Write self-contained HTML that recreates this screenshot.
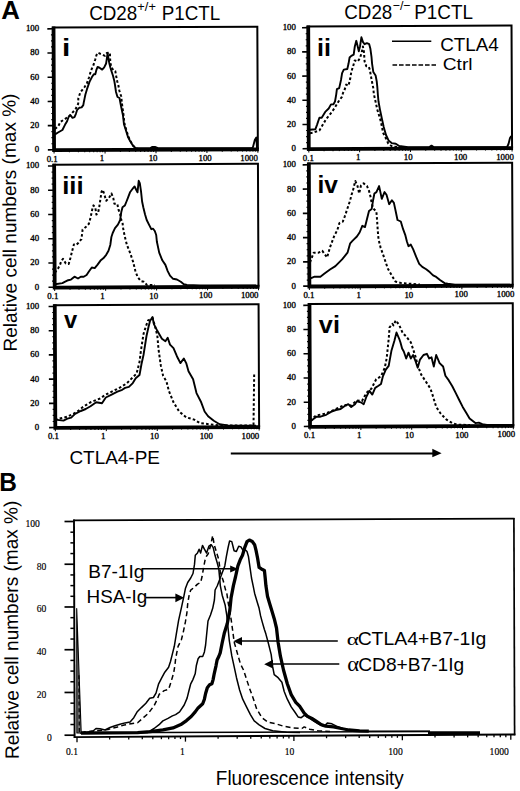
<!DOCTYPE html>
<html><head><meta charset="utf-8"><style>
html,body{margin:0;padding:0;background:#fff;}
body{width:520px;height:791px;overflow:hidden;}
svg{display:block;}
text{fill:#000;}
.tk{font-family:"Liberation Serif",serif;font-size:8.8px;stroke:#000;stroke-width:0.35px;}
.tkb{font-family:"Liberation Serif",serif;font-size:9.6px;stroke:#000;stroke-width:0.15px;}
.pl{font-family:"Liberation Sans",sans-serif;font-weight:bold;font-size:24.5px;}
.big{font-family:"Liberation Sans",sans-serif;font-weight:bold;font-size:24.5px;}
.hd{font-family:"Liberation Sans",sans-serif;font-size:18.4px;}
.lg{font-family:"Liberation Sans",sans-serif;font-size:17.8px;}
.yl{font-family:"Liberation Sans",sans-serif;font-size:18.9px;}
.ax{font-family:"Liberation Sans",sans-serif;font-size:18.5px;}
.ax2{font-family:"Liberation Sans",sans-serif;font-size:18.7px;}
.lb{font-family:"Liberation Sans",sans-serif;font-size:18.3px;}
.gr{font-family:"Liberation Serif",serif;}
</style></head><body>
<svg width="520" height="791" viewBox="0 0 520 791">
<rect width="520" height="791" fill="#fff"/>
<g transform="rotate(-0.2578)">
<path d="M52.00,27.85H257.20V150.45" fill="none" stroke="#000" stroke-width="2"/>
<path d="M53.40,26.85V150.45H258.20" fill="none" stroke="#000" stroke-width="3.8"/>
<line x1="47.20" y1="150.05" x2="53.40" y2="150.05" stroke="#000" stroke-width="1.6"/>
<line x1="50.80" y1="144.00" x2="53.40" y2="144.00" stroke="#000" stroke-width="1.2"/>
<line x1="50.80" y1="137.95" x2="53.40" y2="137.95" stroke="#000" stroke-width="1.2"/>
<line x1="50.80" y1="131.90" x2="53.40" y2="131.90" stroke="#000" stroke-width="1.2"/>
<line x1="47.20" y1="125.85" x2="53.40" y2="125.85" stroke="#000" stroke-width="1.6"/>
<line x1="50.80" y1="119.80" x2="53.40" y2="119.80" stroke="#000" stroke-width="1.2"/>
<line x1="50.80" y1="113.75" x2="53.40" y2="113.75" stroke="#000" stroke-width="1.2"/>
<line x1="50.80" y1="107.70" x2="53.40" y2="107.70" stroke="#000" stroke-width="1.2"/>
<line x1="47.20" y1="101.65" x2="53.40" y2="101.65" stroke="#000" stroke-width="1.6"/>
<line x1="50.80" y1="95.60" x2="53.40" y2="95.60" stroke="#000" stroke-width="1.2"/>
<line x1="50.80" y1="89.55" x2="53.40" y2="89.55" stroke="#000" stroke-width="1.2"/>
<line x1="50.80" y1="83.50" x2="53.40" y2="83.50" stroke="#000" stroke-width="1.2"/>
<line x1="47.20" y1="77.45" x2="53.40" y2="77.45" stroke="#000" stroke-width="1.6"/>
<line x1="50.80" y1="71.40" x2="53.40" y2="71.40" stroke="#000" stroke-width="1.2"/>
<line x1="50.80" y1="65.35" x2="53.40" y2="65.35" stroke="#000" stroke-width="1.2"/>
<line x1="50.80" y1="59.30" x2="53.40" y2="59.30" stroke="#000" stroke-width="1.2"/>
<line x1="47.20" y1="53.25" x2="53.40" y2="53.25" stroke="#000" stroke-width="1.6"/>
<line x1="50.80" y1="47.20" x2="53.40" y2="47.20" stroke="#000" stroke-width="1.2"/>
<line x1="50.80" y1="41.15" x2="53.40" y2="41.15" stroke="#000" stroke-width="1.2"/>
<line x1="50.80" y1="35.10" x2="53.40" y2="35.10" stroke="#000" stroke-width="1.2"/>
<line x1="47.20" y1="29.05" x2="53.40" y2="29.05" stroke="#000" stroke-width="1.6"/>
<line x1="53.40" y1="150.45" x2="53.40" y2="153.85" stroke="#000" stroke-width="1"/>
<line x1="68.74" y1="150.45" x2="68.74" y2="152.65" stroke="#000" stroke-width="1"/>
<line x1="77.71" y1="150.45" x2="77.71" y2="152.65" stroke="#000" stroke-width="1"/>
<line x1="84.07" y1="150.45" x2="84.07" y2="152.65" stroke="#000" stroke-width="1"/>
<line x1="89.01" y1="150.45" x2="89.01" y2="152.65" stroke="#000" stroke-width="1"/>
<line x1="93.05" y1="150.45" x2="93.05" y2="152.65" stroke="#000" stroke-width="1"/>
<line x1="96.46" y1="150.45" x2="96.46" y2="152.65" stroke="#000" stroke-width="1"/>
<line x1="99.41" y1="150.45" x2="99.41" y2="152.65" stroke="#000" stroke-width="1"/>
<line x1="102.02" y1="150.45" x2="102.02" y2="152.65" stroke="#000" stroke-width="1"/>
<line x1="104.35" y1="150.45" x2="104.35" y2="153.85" stroke="#000" stroke-width="1"/>
<line x1="119.69" y1="150.45" x2="119.69" y2="152.65" stroke="#000" stroke-width="1"/>
<line x1="128.66" y1="150.45" x2="128.66" y2="152.65" stroke="#000" stroke-width="1"/>
<line x1="135.02" y1="150.45" x2="135.02" y2="152.65" stroke="#000" stroke-width="1"/>
<line x1="139.96" y1="150.45" x2="139.96" y2="152.65" stroke="#000" stroke-width="1"/>
<line x1="144.00" y1="150.45" x2="144.00" y2="152.65" stroke="#000" stroke-width="1"/>
<line x1="147.41" y1="150.45" x2="147.41" y2="152.65" stroke="#000" stroke-width="1"/>
<line x1="150.36" y1="150.45" x2="150.36" y2="152.65" stroke="#000" stroke-width="1"/>
<line x1="152.97" y1="150.45" x2="152.97" y2="152.65" stroke="#000" stroke-width="1"/>
<line x1="155.30" y1="150.45" x2="155.30" y2="153.85" stroke="#000" stroke-width="1"/>
<line x1="170.64" y1="150.45" x2="170.64" y2="152.65" stroke="#000" stroke-width="1"/>
<line x1="179.61" y1="150.45" x2="179.61" y2="152.65" stroke="#000" stroke-width="1"/>
<line x1="185.97" y1="150.45" x2="185.97" y2="152.65" stroke="#000" stroke-width="1"/>
<line x1="190.91" y1="150.45" x2="190.91" y2="152.65" stroke="#000" stroke-width="1"/>
<line x1="194.95" y1="150.45" x2="194.95" y2="152.65" stroke="#000" stroke-width="1"/>
<line x1="198.36" y1="150.45" x2="198.36" y2="152.65" stroke="#000" stroke-width="1"/>
<line x1="201.31" y1="150.45" x2="201.31" y2="152.65" stroke="#000" stroke-width="1"/>
<line x1="203.92" y1="150.45" x2="203.92" y2="152.65" stroke="#000" stroke-width="1"/>
<line x1="206.25" y1="150.45" x2="206.25" y2="153.85" stroke="#000" stroke-width="1"/>
<line x1="221.59" y1="150.45" x2="221.59" y2="152.65" stroke="#000" stroke-width="1"/>
<line x1="230.56" y1="150.45" x2="230.56" y2="152.65" stroke="#000" stroke-width="1"/>
<line x1="236.92" y1="150.45" x2="236.92" y2="152.65" stroke="#000" stroke-width="1"/>
<line x1="241.86" y1="150.45" x2="241.86" y2="152.65" stroke="#000" stroke-width="1"/>
<line x1="245.90" y1="150.45" x2="245.90" y2="152.65" stroke="#000" stroke-width="1"/>
<line x1="249.31" y1="150.45" x2="249.31" y2="152.65" stroke="#000" stroke-width="1"/>
<line x1="252.26" y1="150.45" x2="252.26" y2="152.65" stroke="#000" stroke-width="1"/>
<line x1="254.87" y1="150.45" x2="254.87" y2="152.65" stroke="#000" stroke-width="1"/>
<line x1="257.20" y1="150.45" x2="257.20" y2="153.85" stroke="#000" stroke-width="1"/>
<path d="M306.70,27.85H511.40V150.45" fill="none" stroke="#000" stroke-width="2"/>
<path d="M308.10,26.85V150.45H512.40" fill="none" stroke="#000" stroke-width="3.8"/>
<line x1="301.90" y1="150.05" x2="308.10" y2="150.05" stroke="#000" stroke-width="1.6"/>
<line x1="305.50" y1="144.00" x2="308.10" y2="144.00" stroke="#000" stroke-width="1.2"/>
<line x1="305.50" y1="137.95" x2="308.10" y2="137.95" stroke="#000" stroke-width="1.2"/>
<line x1="305.50" y1="131.90" x2="308.10" y2="131.90" stroke="#000" stroke-width="1.2"/>
<line x1="301.90" y1="125.85" x2="308.10" y2="125.85" stroke="#000" stroke-width="1.6"/>
<line x1="305.50" y1="119.80" x2="308.10" y2="119.80" stroke="#000" stroke-width="1.2"/>
<line x1="305.50" y1="113.75" x2="308.10" y2="113.75" stroke="#000" stroke-width="1.2"/>
<line x1="305.50" y1="107.70" x2="308.10" y2="107.70" stroke="#000" stroke-width="1.2"/>
<line x1="301.90" y1="101.65" x2="308.10" y2="101.65" stroke="#000" stroke-width="1.6"/>
<line x1="305.50" y1="95.60" x2="308.10" y2="95.60" stroke="#000" stroke-width="1.2"/>
<line x1="305.50" y1="89.55" x2="308.10" y2="89.55" stroke="#000" stroke-width="1.2"/>
<line x1="305.50" y1="83.50" x2="308.10" y2="83.50" stroke="#000" stroke-width="1.2"/>
<line x1="301.90" y1="77.45" x2="308.10" y2="77.45" stroke="#000" stroke-width="1.6"/>
<line x1="305.50" y1="71.40" x2="308.10" y2="71.40" stroke="#000" stroke-width="1.2"/>
<line x1="305.50" y1="65.35" x2="308.10" y2="65.35" stroke="#000" stroke-width="1.2"/>
<line x1="305.50" y1="59.30" x2="308.10" y2="59.30" stroke="#000" stroke-width="1.2"/>
<line x1="301.90" y1="53.25" x2="308.10" y2="53.25" stroke="#000" stroke-width="1.6"/>
<line x1="305.50" y1="47.20" x2="308.10" y2="47.20" stroke="#000" stroke-width="1.2"/>
<line x1="305.50" y1="41.15" x2="308.10" y2="41.15" stroke="#000" stroke-width="1.2"/>
<line x1="305.50" y1="35.10" x2="308.10" y2="35.10" stroke="#000" stroke-width="1.2"/>
<line x1="301.90" y1="29.05" x2="308.10" y2="29.05" stroke="#000" stroke-width="1.6"/>
<line x1="308.10" y1="150.45" x2="308.10" y2="153.85" stroke="#000" stroke-width="1"/>
<line x1="323.40" y1="150.45" x2="323.40" y2="152.65" stroke="#000" stroke-width="1"/>
<line x1="332.35" y1="150.45" x2="332.35" y2="152.65" stroke="#000" stroke-width="1"/>
<line x1="338.70" y1="150.45" x2="338.70" y2="152.65" stroke="#000" stroke-width="1"/>
<line x1="343.63" y1="150.45" x2="343.63" y2="152.65" stroke="#000" stroke-width="1"/>
<line x1="347.65" y1="150.45" x2="347.65" y2="152.65" stroke="#000" stroke-width="1"/>
<line x1="351.05" y1="150.45" x2="351.05" y2="152.65" stroke="#000" stroke-width="1"/>
<line x1="354.00" y1="150.45" x2="354.00" y2="152.65" stroke="#000" stroke-width="1"/>
<line x1="356.60" y1="150.45" x2="356.60" y2="152.65" stroke="#000" stroke-width="1"/>
<line x1="358.93" y1="150.45" x2="358.93" y2="153.85" stroke="#000" stroke-width="1"/>
<line x1="374.22" y1="150.45" x2="374.22" y2="152.65" stroke="#000" stroke-width="1"/>
<line x1="383.17" y1="150.45" x2="383.17" y2="152.65" stroke="#000" stroke-width="1"/>
<line x1="389.52" y1="150.45" x2="389.52" y2="152.65" stroke="#000" stroke-width="1"/>
<line x1="394.45" y1="150.45" x2="394.45" y2="152.65" stroke="#000" stroke-width="1"/>
<line x1="398.47" y1="150.45" x2="398.47" y2="152.65" stroke="#000" stroke-width="1"/>
<line x1="401.88" y1="150.45" x2="401.88" y2="152.65" stroke="#000" stroke-width="1"/>
<line x1="404.82" y1="150.45" x2="404.82" y2="152.65" stroke="#000" stroke-width="1"/>
<line x1="407.42" y1="150.45" x2="407.42" y2="152.65" stroke="#000" stroke-width="1"/>
<line x1="409.75" y1="150.45" x2="409.75" y2="153.85" stroke="#000" stroke-width="1"/>
<line x1="425.05" y1="150.45" x2="425.05" y2="152.65" stroke="#000" stroke-width="1"/>
<line x1="434.00" y1="150.45" x2="434.00" y2="152.65" stroke="#000" stroke-width="1"/>
<line x1="440.35" y1="150.45" x2="440.35" y2="152.65" stroke="#000" stroke-width="1"/>
<line x1="445.28" y1="150.45" x2="445.28" y2="152.65" stroke="#000" stroke-width="1"/>
<line x1="449.30" y1="150.45" x2="449.30" y2="152.65" stroke="#000" stroke-width="1"/>
<line x1="452.70" y1="150.45" x2="452.70" y2="152.65" stroke="#000" stroke-width="1"/>
<line x1="455.65" y1="150.45" x2="455.65" y2="152.65" stroke="#000" stroke-width="1"/>
<line x1="458.25" y1="150.45" x2="458.25" y2="152.65" stroke="#000" stroke-width="1"/>
<line x1="460.57" y1="150.45" x2="460.57" y2="153.85" stroke="#000" stroke-width="1"/>
<line x1="475.87" y1="150.45" x2="475.87" y2="152.65" stroke="#000" stroke-width="1"/>
<line x1="484.82" y1="150.45" x2="484.82" y2="152.65" stroke="#000" stroke-width="1"/>
<line x1="491.17" y1="150.45" x2="491.17" y2="152.65" stroke="#000" stroke-width="1"/>
<line x1="496.10" y1="150.45" x2="496.10" y2="152.65" stroke="#000" stroke-width="1"/>
<line x1="500.12" y1="150.45" x2="500.12" y2="152.65" stroke="#000" stroke-width="1"/>
<line x1="503.53" y1="150.45" x2="503.53" y2="152.65" stroke="#000" stroke-width="1"/>
<line x1="506.47" y1="150.45" x2="506.47" y2="152.65" stroke="#000" stroke-width="1"/>
<line x1="509.07" y1="150.45" x2="509.07" y2="152.65" stroke="#000" stroke-width="1"/>
<line x1="511.40" y1="150.45" x2="511.40" y2="153.85" stroke="#000" stroke-width="1"/>
<path d="M52.00,165.00H257.20V287.90" fill="none" stroke="#000" stroke-width="2"/>
<path d="M53.40,164.00V287.90H258.20" fill="none" stroke="#000" stroke-width="3.8"/>
<line x1="47.20" y1="287.50" x2="53.40" y2="287.50" stroke="#000" stroke-width="1.6"/>
<line x1="50.80" y1="281.44" x2="53.40" y2="281.44" stroke="#000" stroke-width="1.2"/>
<line x1="50.80" y1="275.37" x2="53.40" y2="275.37" stroke="#000" stroke-width="1.2"/>
<line x1="50.80" y1="269.31" x2="53.40" y2="269.31" stroke="#000" stroke-width="1.2"/>
<line x1="47.20" y1="263.24" x2="53.40" y2="263.24" stroke="#000" stroke-width="1.6"/>
<line x1="50.80" y1="257.18" x2="53.40" y2="257.18" stroke="#000" stroke-width="1.2"/>
<line x1="50.80" y1="251.11" x2="53.40" y2="251.11" stroke="#000" stroke-width="1.2"/>
<line x1="50.80" y1="245.05" x2="53.40" y2="245.05" stroke="#000" stroke-width="1.2"/>
<line x1="47.20" y1="238.98" x2="53.40" y2="238.98" stroke="#000" stroke-width="1.6"/>
<line x1="50.80" y1="232.91" x2="53.40" y2="232.91" stroke="#000" stroke-width="1.2"/>
<line x1="50.80" y1="226.85" x2="53.40" y2="226.85" stroke="#000" stroke-width="1.2"/>
<line x1="50.80" y1="220.78" x2="53.40" y2="220.78" stroke="#000" stroke-width="1.2"/>
<line x1="47.20" y1="214.72" x2="53.40" y2="214.72" stroke="#000" stroke-width="1.6"/>
<line x1="50.80" y1="208.65" x2="53.40" y2="208.65" stroke="#000" stroke-width="1.2"/>
<line x1="50.80" y1="202.59" x2="53.40" y2="202.59" stroke="#000" stroke-width="1.2"/>
<line x1="50.80" y1="196.53" x2="53.40" y2="196.53" stroke="#000" stroke-width="1.2"/>
<line x1="47.20" y1="190.46" x2="53.40" y2="190.46" stroke="#000" stroke-width="1.6"/>
<line x1="50.80" y1="184.39" x2="53.40" y2="184.39" stroke="#000" stroke-width="1.2"/>
<line x1="50.80" y1="178.33" x2="53.40" y2="178.33" stroke="#000" stroke-width="1.2"/>
<line x1="50.80" y1="172.26" x2="53.40" y2="172.26" stroke="#000" stroke-width="1.2"/>
<line x1="47.20" y1="166.20" x2="53.40" y2="166.20" stroke="#000" stroke-width="1.6"/>
<line x1="53.40" y1="287.90" x2="53.40" y2="291.30" stroke="#000" stroke-width="1"/>
<line x1="68.74" y1="287.90" x2="68.74" y2="290.10" stroke="#000" stroke-width="1"/>
<line x1="77.71" y1="287.90" x2="77.71" y2="290.10" stroke="#000" stroke-width="1"/>
<line x1="84.07" y1="287.90" x2="84.07" y2="290.10" stroke="#000" stroke-width="1"/>
<line x1="89.01" y1="287.90" x2="89.01" y2="290.10" stroke="#000" stroke-width="1"/>
<line x1="93.05" y1="287.90" x2="93.05" y2="290.10" stroke="#000" stroke-width="1"/>
<line x1="96.46" y1="287.90" x2="96.46" y2="290.10" stroke="#000" stroke-width="1"/>
<line x1="99.41" y1="287.90" x2="99.41" y2="290.10" stroke="#000" stroke-width="1"/>
<line x1="102.02" y1="287.90" x2="102.02" y2="290.10" stroke="#000" stroke-width="1"/>
<line x1="104.35" y1="287.90" x2="104.35" y2="291.30" stroke="#000" stroke-width="1"/>
<line x1="119.69" y1="287.90" x2="119.69" y2="290.10" stroke="#000" stroke-width="1"/>
<line x1="128.66" y1="287.90" x2="128.66" y2="290.10" stroke="#000" stroke-width="1"/>
<line x1="135.02" y1="287.90" x2="135.02" y2="290.10" stroke="#000" stroke-width="1"/>
<line x1="139.96" y1="287.90" x2="139.96" y2="290.10" stroke="#000" stroke-width="1"/>
<line x1="144.00" y1="287.90" x2="144.00" y2="290.10" stroke="#000" stroke-width="1"/>
<line x1="147.41" y1="287.90" x2="147.41" y2="290.10" stroke="#000" stroke-width="1"/>
<line x1="150.36" y1="287.90" x2="150.36" y2="290.10" stroke="#000" stroke-width="1"/>
<line x1="152.97" y1="287.90" x2="152.97" y2="290.10" stroke="#000" stroke-width="1"/>
<line x1="155.30" y1="287.90" x2="155.30" y2="291.30" stroke="#000" stroke-width="1"/>
<line x1="170.64" y1="287.90" x2="170.64" y2="290.10" stroke="#000" stroke-width="1"/>
<line x1="179.61" y1="287.90" x2="179.61" y2="290.10" stroke="#000" stroke-width="1"/>
<line x1="185.97" y1="287.90" x2="185.97" y2="290.10" stroke="#000" stroke-width="1"/>
<line x1="190.91" y1="287.90" x2="190.91" y2="290.10" stroke="#000" stroke-width="1"/>
<line x1="194.95" y1="287.90" x2="194.95" y2="290.10" stroke="#000" stroke-width="1"/>
<line x1="198.36" y1="287.90" x2="198.36" y2="290.10" stroke="#000" stroke-width="1"/>
<line x1="201.31" y1="287.90" x2="201.31" y2="290.10" stroke="#000" stroke-width="1"/>
<line x1="203.92" y1="287.90" x2="203.92" y2="290.10" stroke="#000" stroke-width="1"/>
<line x1="206.25" y1="287.90" x2="206.25" y2="291.30" stroke="#000" stroke-width="1"/>
<line x1="221.59" y1="287.90" x2="221.59" y2="290.10" stroke="#000" stroke-width="1"/>
<line x1="230.56" y1="287.90" x2="230.56" y2="290.10" stroke="#000" stroke-width="1"/>
<line x1="236.92" y1="287.90" x2="236.92" y2="290.10" stroke="#000" stroke-width="1"/>
<line x1="241.86" y1="287.90" x2="241.86" y2="290.10" stroke="#000" stroke-width="1"/>
<line x1="245.90" y1="287.90" x2="245.90" y2="290.10" stroke="#000" stroke-width="1"/>
<line x1="249.31" y1="287.90" x2="249.31" y2="290.10" stroke="#000" stroke-width="1"/>
<line x1="252.26" y1="287.90" x2="252.26" y2="290.10" stroke="#000" stroke-width="1"/>
<line x1="254.87" y1="287.90" x2="254.87" y2="290.10" stroke="#000" stroke-width="1"/>
<line x1="257.20" y1="287.90" x2="257.20" y2="291.30" stroke="#000" stroke-width="1"/>
<path d="M306.70,165.00H511.40V287.90" fill="none" stroke="#000" stroke-width="2"/>
<path d="M308.10,164.00V287.90H512.40" fill="none" stroke="#000" stroke-width="3.8"/>
<line x1="301.90" y1="287.50" x2="308.10" y2="287.50" stroke="#000" stroke-width="1.6"/>
<line x1="305.50" y1="281.44" x2="308.10" y2="281.44" stroke="#000" stroke-width="1.2"/>
<line x1="305.50" y1="275.37" x2="308.10" y2="275.37" stroke="#000" stroke-width="1.2"/>
<line x1="305.50" y1="269.31" x2="308.10" y2="269.31" stroke="#000" stroke-width="1.2"/>
<line x1="301.90" y1="263.24" x2="308.10" y2="263.24" stroke="#000" stroke-width="1.6"/>
<line x1="305.50" y1="257.18" x2="308.10" y2="257.18" stroke="#000" stroke-width="1.2"/>
<line x1="305.50" y1="251.11" x2="308.10" y2="251.11" stroke="#000" stroke-width="1.2"/>
<line x1="305.50" y1="245.05" x2="308.10" y2="245.05" stroke="#000" stroke-width="1.2"/>
<line x1="301.90" y1="238.98" x2="308.10" y2="238.98" stroke="#000" stroke-width="1.6"/>
<line x1="305.50" y1="232.91" x2="308.10" y2="232.91" stroke="#000" stroke-width="1.2"/>
<line x1="305.50" y1="226.85" x2="308.10" y2="226.85" stroke="#000" stroke-width="1.2"/>
<line x1="305.50" y1="220.78" x2="308.10" y2="220.78" stroke="#000" stroke-width="1.2"/>
<line x1="301.90" y1="214.72" x2="308.10" y2="214.72" stroke="#000" stroke-width="1.6"/>
<line x1="305.50" y1="208.65" x2="308.10" y2="208.65" stroke="#000" stroke-width="1.2"/>
<line x1="305.50" y1="202.59" x2="308.10" y2="202.59" stroke="#000" stroke-width="1.2"/>
<line x1="305.50" y1="196.53" x2="308.10" y2="196.53" stroke="#000" stroke-width="1.2"/>
<line x1="301.90" y1="190.46" x2="308.10" y2="190.46" stroke="#000" stroke-width="1.6"/>
<line x1="305.50" y1="184.39" x2="308.10" y2="184.39" stroke="#000" stroke-width="1.2"/>
<line x1="305.50" y1="178.33" x2="308.10" y2="178.33" stroke="#000" stroke-width="1.2"/>
<line x1="305.50" y1="172.26" x2="308.10" y2="172.26" stroke="#000" stroke-width="1.2"/>
<line x1="301.90" y1="166.20" x2="308.10" y2="166.20" stroke="#000" stroke-width="1.6"/>
<line x1="308.10" y1="287.90" x2="308.10" y2="291.30" stroke="#000" stroke-width="1"/>
<line x1="323.40" y1="287.90" x2="323.40" y2="290.10" stroke="#000" stroke-width="1"/>
<line x1="332.35" y1="287.90" x2="332.35" y2="290.10" stroke="#000" stroke-width="1"/>
<line x1="338.70" y1="287.90" x2="338.70" y2="290.10" stroke="#000" stroke-width="1"/>
<line x1="343.63" y1="287.90" x2="343.63" y2="290.10" stroke="#000" stroke-width="1"/>
<line x1="347.65" y1="287.90" x2="347.65" y2="290.10" stroke="#000" stroke-width="1"/>
<line x1="351.05" y1="287.90" x2="351.05" y2="290.10" stroke="#000" stroke-width="1"/>
<line x1="354.00" y1="287.90" x2="354.00" y2="290.10" stroke="#000" stroke-width="1"/>
<line x1="356.60" y1="287.90" x2="356.60" y2="290.10" stroke="#000" stroke-width="1"/>
<line x1="358.93" y1="287.90" x2="358.93" y2="291.30" stroke="#000" stroke-width="1"/>
<line x1="374.22" y1="287.90" x2="374.22" y2="290.10" stroke="#000" stroke-width="1"/>
<line x1="383.17" y1="287.90" x2="383.17" y2="290.10" stroke="#000" stroke-width="1"/>
<line x1="389.52" y1="287.90" x2="389.52" y2="290.10" stroke="#000" stroke-width="1"/>
<line x1="394.45" y1="287.90" x2="394.45" y2="290.10" stroke="#000" stroke-width="1"/>
<line x1="398.47" y1="287.90" x2="398.47" y2="290.10" stroke="#000" stroke-width="1"/>
<line x1="401.88" y1="287.90" x2="401.88" y2="290.10" stroke="#000" stroke-width="1"/>
<line x1="404.82" y1="287.90" x2="404.82" y2="290.10" stroke="#000" stroke-width="1"/>
<line x1="407.42" y1="287.90" x2="407.42" y2="290.10" stroke="#000" stroke-width="1"/>
<line x1="409.75" y1="287.90" x2="409.75" y2="291.30" stroke="#000" stroke-width="1"/>
<line x1="425.05" y1="287.90" x2="425.05" y2="290.10" stroke="#000" stroke-width="1"/>
<line x1="434.00" y1="287.90" x2="434.00" y2="290.10" stroke="#000" stroke-width="1"/>
<line x1="440.35" y1="287.90" x2="440.35" y2="290.10" stroke="#000" stroke-width="1"/>
<line x1="445.28" y1="287.90" x2="445.28" y2="290.10" stroke="#000" stroke-width="1"/>
<line x1="449.30" y1="287.90" x2="449.30" y2="290.10" stroke="#000" stroke-width="1"/>
<line x1="452.70" y1="287.90" x2="452.70" y2="290.10" stroke="#000" stroke-width="1"/>
<line x1="455.65" y1="287.90" x2="455.65" y2="290.10" stroke="#000" stroke-width="1"/>
<line x1="458.25" y1="287.90" x2="458.25" y2="290.10" stroke="#000" stroke-width="1"/>
<line x1="460.57" y1="287.90" x2="460.57" y2="291.30" stroke="#000" stroke-width="1"/>
<line x1="475.87" y1="287.90" x2="475.87" y2="290.10" stroke="#000" stroke-width="1"/>
<line x1="484.82" y1="287.90" x2="484.82" y2="290.10" stroke="#000" stroke-width="1"/>
<line x1="491.17" y1="287.90" x2="491.17" y2="290.10" stroke="#000" stroke-width="1"/>
<line x1="496.10" y1="287.90" x2="496.10" y2="290.10" stroke="#000" stroke-width="1"/>
<line x1="500.12" y1="287.90" x2="500.12" y2="290.10" stroke="#000" stroke-width="1"/>
<line x1="503.53" y1="287.90" x2="503.53" y2="290.10" stroke="#000" stroke-width="1"/>
<line x1="506.47" y1="287.90" x2="506.47" y2="290.10" stroke="#000" stroke-width="1"/>
<line x1="509.07" y1="287.90" x2="509.07" y2="290.10" stroke="#000" stroke-width="1"/>
<line x1="511.40" y1="287.90" x2="511.40" y2="291.30" stroke="#000" stroke-width="1"/>
<path d="M52.00,305.50H257.20V428.20" fill="none" stroke="#000" stroke-width="2"/>
<path d="M53.40,304.50V428.20H258.20" fill="none" stroke="#000" stroke-width="3.8"/>
<line x1="47.20" y1="427.80" x2="53.40" y2="427.80" stroke="#000" stroke-width="1.6"/>
<line x1="50.80" y1="421.75" x2="53.40" y2="421.75" stroke="#000" stroke-width="1.2"/>
<line x1="50.80" y1="415.69" x2="53.40" y2="415.69" stroke="#000" stroke-width="1.2"/>
<line x1="50.80" y1="409.63" x2="53.40" y2="409.63" stroke="#000" stroke-width="1.2"/>
<line x1="47.20" y1="403.58" x2="53.40" y2="403.58" stroke="#000" stroke-width="1.6"/>
<line x1="50.80" y1="397.52" x2="53.40" y2="397.52" stroke="#000" stroke-width="1.2"/>
<line x1="50.80" y1="391.47" x2="53.40" y2="391.47" stroke="#000" stroke-width="1.2"/>
<line x1="50.80" y1="385.42" x2="53.40" y2="385.42" stroke="#000" stroke-width="1.2"/>
<line x1="47.20" y1="379.36" x2="53.40" y2="379.36" stroke="#000" stroke-width="1.6"/>
<line x1="50.80" y1="373.31" x2="53.40" y2="373.31" stroke="#000" stroke-width="1.2"/>
<line x1="50.80" y1="367.25" x2="53.40" y2="367.25" stroke="#000" stroke-width="1.2"/>
<line x1="50.80" y1="361.19" x2="53.40" y2="361.19" stroke="#000" stroke-width="1.2"/>
<line x1="47.20" y1="355.14" x2="53.40" y2="355.14" stroke="#000" stroke-width="1.6"/>
<line x1="50.80" y1="349.08" x2="53.40" y2="349.08" stroke="#000" stroke-width="1.2"/>
<line x1="50.80" y1="343.03" x2="53.40" y2="343.03" stroke="#000" stroke-width="1.2"/>
<line x1="50.80" y1="336.98" x2="53.40" y2="336.98" stroke="#000" stroke-width="1.2"/>
<line x1="47.20" y1="330.92" x2="53.40" y2="330.92" stroke="#000" stroke-width="1.6"/>
<line x1="50.80" y1="324.87" x2="53.40" y2="324.87" stroke="#000" stroke-width="1.2"/>
<line x1="50.80" y1="318.81" x2="53.40" y2="318.81" stroke="#000" stroke-width="1.2"/>
<line x1="50.80" y1="312.75" x2="53.40" y2="312.75" stroke="#000" stroke-width="1.2"/>
<line x1="47.20" y1="306.70" x2="53.40" y2="306.70" stroke="#000" stroke-width="1.6"/>
<line x1="53.40" y1="428.20" x2="53.40" y2="431.60" stroke="#000" stroke-width="1"/>
<line x1="68.74" y1="428.20" x2="68.74" y2="430.40" stroke="#000" stroke-width="1"/>
<line x1="77.71" y1="428.20" x2="77.71" y2="430.40" stroke="#000" stroke-width="1"/>
<line x1="84.07" y1="428.20" x2="84.07" y2="430.40" stroke="#000" stroke-width="1"/>
<line x1="89.01" y1="428.20" x2="89.01" y2="430.40" stroke="#000" stroke-width="1"/>
<line x1="93.05" y1="428.20" x2="93.05" y2="430.40" stroke="#000" stroke-width="1"/>
<line x1="96.46" y1="428.20" x2="96.46" y2="430.40" stroke="#000" stroke-width="1"/>
<line x1="99.41" y1="428.20" x2="99.41" y2="430.40" stroke="#000" stroke-width="1"/>
<line x1="102.02" y1="428.20" x2="102.02" y2="430.40" stroke="#000" stroke-width="1"/>
<line x1="104.35" y1="428.20" x2="104.35" y2="431.60" stroke="#000" stroke-width="1"/>
<line x1="119.69" y1="428.20" x2="119.69" y2="430.40" stroke="#000" stroke-width="1"/>
<line x1="128.66" y1="428.20" x2="128.66" y2="430.40" stroke="#000" stroke-width="1"/>
<line x1="135.02" y1="428.20" x2="135.02" y2="430.40" stroke="#000" stroke-width="1"/>
<line x1="139.96" y1="428.20" x2="139.96" y2="430.40" stroke="#000" stroke-width="1"/>
<line x1="144.00" y1="428.20" x2="144.00" y2="430.40" stroke="#000" stroke-width="1"/>
<line x1="147.41" y1="428.20" x2="147.41" y2="430.40" stroke="#000" stroke-width="1"/>
<line x1="150.36" y1="428.20" x2="150.36" y2="430.40" stroke="#000" stroke-width="1"/>
<line x1="152.97" y1="428.20" x2="152.97" y2="430.40" stroke="#000" stroke-width="1"/>
<line x1="155.30" y1="428.20" x2="155.30" y2="431.60" stroke="#000" stroke-width="1"/>
<line x1="170.64" y1="428.20" x2="170.64" y2="430.40" stroke="#000" stroke-width="1"/>
<line x1="179.61" y1="428.20" x2="179.61" y2="430.40" stroke="#000" stroke-width="1"/>
<line x1="185.97" y1="428.20" x2="185.97" y2="430.40" stroke="#000" stroke-width="1"/>
<line x1="190.91" y1="428.20" x2="190.91" y2="430.40" stroke="#000" stroke-width="1"/>
<line x1="194.95" y1="428.20" x2="194.95" y2="430.40" stroke="#000" stroke-width="1"/>
<line x1="198.36" y1="428.20" x2="198.36" y2="430.40" stroke="#000" stroke-width="1"/>
<line x1="201.31" y1="428.20" x2="201.31" y2="430.40" stroke="#000" stroke-width="1"/>
<line x1="203.92" y1="428.20" x2="203.92" y2="430.40" stroke="#000" stroke-width="1"/>
<line x1="206.25" y1="428.20" x2="206.25" y2="431.60" stroke="#000" stroke-width="1"/>
<line x1="221.59" y1="428.20" x2="221.59" y2="430.40" stroke="#000" stroke-width="1"/>
<line x1="230.56" y1="428.20" x2="230.56" y2="430.40" stroke="#000" stroke-width="1"/>
<line x1="236.92" y1="428.20" x2="236.92" y2="430.40" stroke="#000" stroke-width="1"/>
<line x1="241.86" y1="428.20" x2="241.86" y2="430.40" stroke="#000" stroke-width="1"/>
<line x1="245.90" y1="428.20" x2="245.90" y2="430.40" stroke="#000" stroke-width="1"/>
<line x1="249.31" y1="428.20" x2="249.31" y2="430.40" stroke="#000" stroke-width="1"/>
<line x1="252.26" y1="428.20" x2="252.26" y2="430.40" stroke="#000" stroke-width="1"/>
<line x1="254.87" y1="428.20" x2="254.87" y2="430.40" stroke="#000" stroke-width="1"/>
<line x1="257.20" y1="428.20" x2="257.20" y2="431.60" stroke="#000" stroke-width="1"/>
<path d="M306.70,305.50H511.40V428.20" fill="none" stroke="#000" stroke-width="2"/>
<path d="M308.10,304.50V428.20H512.40" fill="none" stroke="#000" stroke-width="3.8"/>
<line x1="301.90" y1="427.80" x2="308.10" y2="427.80" stroke="#000" stroke-width="1.6"/>
<line x1="305.50" y1="421.75" x2="308.10" y2="421.75" stroke="#000" stroke-width="1.2"/>
<line x1="305.50" y1="415.69" x2="308.10" y2="415.69" stroke="#000" stroke-width="1.2"/>
<line x1="305.50" y1="409.63" x2="308.10" y2="409.63" stroke="#000" stroke-width="1.2"/>
<line x1="301.90" y1="403.58" x2="308.10" y2="403.58" stroke="#000" stroke-width="1.6"/>
<line x1="305.50" y1="397.52" x2="308.10" y2="397.52" stroke="#000" stroke-width="1.2"/>
<line x1="305.50" y1="391.47" x2="308.10" y2="391.47" stroke="#000" stroke-width="1.2"/>
<line x1="305.50" y1="385.42" x2="308.10" y2="385.42" stroke="#000" stroke-width="1.2"/>
<line x1="301.90" y1="379.36" x2="308.10" y2="379.36" stroke="#000" stroke-width="1.6"/>
<line x1="305.50" y1="373.31" x2="308.10" y2="373.31" stroke="#000" stroke-width="1.2"/>
<line x1="305.50" y1="367.25" x2="308.10" y2="367.25" stroke="#000" stroke-width="1.2"/>
<line x1="305.50" y1="361.19" x2="308.10" y2="361.19" stroke="#000" stroke-width="1.2"/>
<line x1="301.90" y1="355.14" x2="308.10" y2="355.14" stroke="#000" stroke-width="1.6"/>
<line x1="305.50" y1="349.08" x2="308.10" y2="349.08" stroke="#000" stroke-width="1.2"/>
<line x1="305.50" y1="343.03" x2="308.10" y2="343.03" stroke="#000" stroke-width="1.2"/>
<line x1="305.50" y1="336.98" x2="308.10" y2="336.98" stroke="#000" stroke-width="1.2"/>
<line x1="301.90" y1="330.92" x2="308.10" y2="330.92" stroke="#000" stroke-width="1.6"/>
<line x1="305.50" y1="324.87" x2="308.10" y2="324.87" stroke="#000" stroke-width="1.2"/>
<line x1="305.50" y1="318.81" x2="308.10" y2="318.81" stroke="#000" stroke-width="1.2"/>
<line x1="305.50" y1="312.75" x2="308.10" y2="312.75" stroke="#000" stroke-width="1.2"/>
<line x1="301.90" y1="306.70" x2="308.10" y2="306.70" stroke="#000" stroke-width="1.6"/>
<line x1="308.10" y1="428.20" x2="308.10" y2="431.60" stroke="#000" stroke-width="1"/>
<line x1="323.40" y1="428.20" x2="323.40" y2="430.40" stroke="#000" stroke-width="1"/>
<line x1="332.35" y1="428.20" x2="332.35" y2="430.40" stroke="#000" stroke-width="1"/>
<line x1="338.70" y1="428.20" x2="338.70" y2="430.40" stroke="#000" stroke-width="1"/>
<line x1="343.63" y1="428.20" x2="343.63" y2="430.40" stroke="#000" stroke-width="1"/>
<line x1="347.65" y1="428.20" x2="347.65" y2="430.40" stroke="#000" stroke-width="1"/>
<line x1="351.05" y1="428.20" x2="351.05" y2="430.40" stroke="#000" stroke-width="1"/>
<line x1="354.00" y1="428.20" x2="354.00" y2="430.40" stroke="#000" stroke-width="1"/>
<line x1="356.60" y1="428.20" x2="356.60" y2="430.40" stroke="#000" stroke-width="1"/>
<line x1="358.93" y1="428.20" x2="358.93" y2="431.60" stroke="#000" stroke-width="1"/>
<line x1="374.22" y1="428.20" x2="374.22" y2="430.40" stroke="#000" stroke-width="1"/>
<line x1="383.17" y1="428.20" x2="383.17" y2="430.40" stroke="#000" stroke-width="1"/>
<line x1="389.52" y1="428.20" x2="389.52" y2="430.40" stroke="#000" stroke-width="1"/>
<line x1="394.45" y1="428.20" x2="394.45" y2="430.40" stroke="#000" stroke-width="1"/>
<line x1="398.47" y1="428.20" x2="398.47" y2="430.40" stroke="#000" stroke-width="1"/>
<line x1="401.88" y1="428.20" x2="401.88" y2="430.40" stroke="#000" stroke-width="1"/>
<line x1="404.82" y1="428.20" x2="404.82" y2="430.40" stroke="#000" stroke-width="1"/>
<line x1="407.42" y1="428.20" x2="407.42" y2="430.40" stroke="#000" stroke-width="1"/>
<line x1="409.75" y1="428.20" x2="409.75" y2="431.60" stroke="#000" stroke-width="1"/>
<line x1="425.05" y1="428.20" x2="425.05" y2="430.40" stroke="#000" stroke-width="1"/>
<line x1="434.00" y1="428.20" x2="434.00" y2="430.40" stroke="#000" stroke-width="1"/>
<line x1="440.35" y1="428.20" x2="440.35" y2="430.40" stroke="#000" stroke-width="1"/>
<line x1="445.28" y1="428.20" x2="445.28" y2="430.40" stroke="#000" stroke-width="1"/>
<line x1="449.30" y1="428.20" x2="449.30" y2="430.40" stroke="#000" stroke-width="1"/>
<line x1="452.70" y1="428.20" x2="452.70" y2="430.40" stroke="#000" stroke-width="1"/>
<line x1="455.65" y1="428.20" x2="455.65" y2="430.40" stroke="#000" stroke-width="1"/>
<line x1="458.25" y1="428.20" x2="458.25" y2="430.40" stroke="#000" stroke-width="1"/>
<line x1="460.57" y1="428.20" x2="460.57" y2="431.60" stroke="#000" stroke-width="1"/>
<line x1="475.87" y1="428.20" x2="475.87" y2="430.40" stroke="#000" stroke-width="1"/>
<line x1="484.82" y1="428.20" x2="484.82" y2="430.40" stroke="#000" stroke-width="1"/>
<line x1="491.17" y1="428.20" x2="491.17" y2="430.40" stroke="#000" stroke-width="1"/>
<line x1="496.10" y1="428.20" x2="496.10" y2="430.40" stroke="#000" stroke-width="1"/>
<line x1="500.12" y1="428.20" x2="500.12" y2="430.40" stroke="#000" stroke-width="1"/>
<line x1="503.53" y1="428.20" x2="503.53" y2="430.40" stroke="#000" stroke-width="1"/>
<line x1="506.47" y1="428.20" x2="506.47" y2="430.40" stroke="#000" stroke-width="1"/>
<line x1="509.07" y1="428.20" x2="509.07" y2="430.40" stroke="#000" stroke-width="1"/>
<line x1="511.40" y1="428.20" x2="511.40" y2="431.60" stroke="#000" stroke-width="1"/>
</g>
<text x="39.1" y="152.2" text-anchor="end" class="tk">0</text>
<text x="39.1" y="128.0" text-anchor="end" class="tk">20</text>
<text x="39.1" y="103.8" text-anchor="end" class="tk">40</text>
<text x="39.1" y="79.6" text-anchor="end" class="tk">60</text>
<text x="39.1" y="55.4" text-anchor="end" class="tk">80</text>
<text x="39.1" y="31.2" text-anchor="end" class="tk">100</text>
<text x="52.2" y="161.6" text-anchor="middle" class="tk">0.1</text>
<text x="101.9" y="161.4" text-anchor="middle" class="tk">1</text>
<text x="153.1" y="161.2" text-anchor="middle" class="tk">10</text>
<text x="205.1" y="160.9" text-anchor="middle" class="tk">100</text>
<text x="249.1" y="160.7" text-anchor="middle" class="tk">1000</text>
<text x="295.9" y="151.1" text-anchor="end" class="tk">0</text>
<text x="295.9" y="126.9" text-anchor="end" class="tk">20</text>
<text x="295.9" y="102.7" text-anchor="end" class="tk">40</text>
<text x="295.9" y="78.5" text-anchor="end" class="tk">60</text>
<text x="295.9" y="54.3" text-anchor="end" class="tk">80</text>
<text x="295.9" y="30.1" text-anchor="end" class="tk">100</text>
<text x="308.3" y="160.5" text-anchor="middle" class="tk">0.1</text>
<text x="358.1" y="160.2" text-anchor="middle" class="tk">1</text>
<text x="408.2" y="160.0" text-anchor="middle" class="tk">10</text>
<text x="460.6" y="159.8" text-anchor="middle" class="tk">100</text>
<text x="505.0" y="159.6" text-anchor="middle" class="tk">1000</text>
<text x="39.1" y="289.7" text-anchor="end" class="tk">0</text>
<text x="39.1" y="265.4" text-anchor="end" class="tk">20</text>
<text x="39.1" y="241.2" text-anchor="end" class="tk">40</text>
<text x="39.1" y="216.9" text-anchor="end" class="tk">60</text>
<text x="39.1" y="192.7" text-anchor="end" class="tk">80</text>
<text x="39.1" y="168.4" text-anchor="end" class="tk">100</text>
<text x="52.8" y="299.1" text-anchor="middle" class="tk">0.1</text>
<text x="102.5" y="298.8" text-anchor="middle" class="tk">1</text>
<text x="153.7" y="298.6" text-anchor="middle" class="tk">10</text>
<text x="205.7" y="298.4" text-anchor="middle" class="tk">100</text>
<text x="249.7" y="298.2" text-anchor="middle" class="tk">1000</text>
<text x="295.9" y="288.5" text-anchor="end" class="tk">0</text>
<text x="295.9" y="264.3" text-anchor="end" class="tk">20</text>
<text x="295.9" y="240.0" text-anchor="end" class="tk">40</text>
<text x="295.9" y="215.8" text-anchor="end" class="tk">60</text>
<text x="295.9" y="191.5" text-anchor="end" class="tk">80</text>
<text x="295.9" y="167.2" text-anchor="end" class="tk">100</text>
<text x="308.9" y="297.9" text-anchor="middle" class="tk">0.1</text>
<text x="358.7" y="297.7" text-anchor="middle" class="tk">1</text>
<text x="408.8" y="297.5" text-anchor="middle" class="tk">10</text>
<text x="461.2" y="297.2" text-anchor="middle" class="tk">100</text>
<text x="505.6" y="297.0" text-anchor="middle" class="tk">1000</text>
<text x="39.1" y="430.0" text-anchor="end" class="tk">0</text>
<text x="39.1" y="405.8" text-anchor="end" class="tk">20</text>
<text x="39.1" y="381.6" text-anchor="end" class="tk">40</text>
<text x="39.1" y="357.3" text-anchor="end" class="tk">60</text>
<text x="39.1" y="333.1" text-anchor="end" class="tk">80</text>
<text x="39.1" y="308.9" text-anchor="end" class="tk">100</text>
<text x="53.4" y="439.4" text-anchor="middle" class="tk">0.1</text>
<text x="103.1" y="439.1" text-anchor="middle" class="tk">1</text>
<text x="154.4" y="438.9" text-anchor="middle" class="tk">10</text>
<text x="206.3" y="438.7" text-anchor="middle" class="tk">100</text>
<text x="250.4" y="438.5" text-anchor="middle" class="tk">1000</text>
<text x="295.9" y="428.8" text-anchor="end" class="tk">0</text>
<text x="295.9" y="404.6" text-anchor="end" class="tk">20</text>
<text x="295.9" y="380.4" text-anchor="end" class="tk">40</text>
<text x="295.9" y="356.2" text-anchor="end" class="tk">60</text>
<text x="295.9" y="332.0" text-anchor="end" class="tk">80</text>
<text x="295.9" y="307.7" text-anchor="end" class="tk">100</text>
<text x="309.6" y="438.2" text-anchor="middle" class="tk">0.1</text>
<text x="359.3" y="438.0" text-anchor="middle" class="tk">1</text>
<text x="409.5" y="437.8" text-anchor="middle" class="tk">10</text>
<text x="461.9" y="437.5" text-anchor="middle" class="tk">100</text>
<text x="506.3" y="437.3" text-anchor="middle" class="tk">1000</text>
<polyline points="55.0,129.0 58.4,126.0 60.4,121.9 65.0,119.0 70.1,115.2 73.5,111.5 75.9,108.5 78.2,103.7 78.3,98.5 80.3,92.4 84.4,87.3 86.9,83.3 89.0,77.5 91.0,70.5 93.5,65.0 95.3,59.2 96.5,55.0 98.0,52.7 100.3,53.8 102.6,54.6 104.9,55.8 106.8,53.1 108.8,52.7 109.9,52.7 110.3,62.7 111.5,67.3 113.4,70.4 115.3,71.2 116.1,75.8 117.2,81.2 118.3,85.0 119.4,90.8 121.2,96.5 122.0,104.0 123.5,115.0 124.5,124.0 126.3,130.0 128.5,137.0 131.0,142.0 134.0,146.5 137.0,148.2" fill="none" stroke="#000" stroke-width="2.0" stroke-dasharray="2.6 2.2" stroke-linejoin="round"/>
<polyline points="55.0,134.4 58.0,132.5 62.4,130.0 65.1,124.6 67.1,121.2 68.5,117.2 70.5,115.2 72.5,117.9 74.5,117.2 75.9,113.8 77.2,109.8 79.2,107.8 81.6,107.4 83.3,105.1 83.9,101.7 84.6,98.4 85.4,94.5 86.9,89.4 89.5,81.9 91.8,77.3 93.8,74.2 95.3,74.2 96.5,69.6 97.6,66.9 99.5,67.7 102.2,69.6 104.2,67.3 106.1,63.5 106.8,58.8 107.6,53.1 108.4,58.1 109.2,62.7 110.3,67.3 111.5,71.2 113.0,75.8 114.2,80.4 115.0,85.0 116.0,92.0 117.5,97.0 119.5,98.0 121.2,107.0 122.9,115.0 124.0,124.3 125.8,130.0 128.0,137.0 130.4,141.6 133.3,146.2 136.2,148.2 150.0,148.2 152.0,147.0 155.0,147.0 158.0,148.2 252.0,148.2 253.0,147.0 254.8,140.0 256.3,137.5 257.0,148.0" fill="none" stroke="#000" stroke-width="1.9" stroke-linejoin="round"/>
<polyline points="310.0,133.3 313.1,132.7 319.4,130.4 323.5,123.5 326.3,118.8 329.2,115.4 332.7,110.8 335.0,107.3 338.5,101.5 341.9,96.9 343.0,93.0 344.4,90.4 346.2,84.6 348.5,85.8 350.2,78.8 351.3,71.9 353.1,66.2 354.8,60.4 357.7,61.5 360.0,58.1 361.7,52.3 362.9,46.5 364.0,52.3 364.6,61.5 366.3,66.2 368.7,66.7 369.8,69.6 371.0,76.5 372.1,82.3 373.3,88.1 373.8,93.8 375.0,99.2 377.3,109.6 380.8,121.2 383.1,132.7 386.0,138.5 388.3,143.7 392.3,146.5 400.0,147.2" fill="none" stroke="#000" stroke-width="2.0" stroke-dasharray="2.6 2.2" stroke-linejoin="round"/>
<polyline points="310.0,129.8 315.4,129.2 317.1,124.6 319.4,117.7 321.7,117.7 325.2,111.9 328.7,108.5 331.0,104.4 333.3,104.4 335.0,101.5 336.2,94.6 336.9,89.2 339.2,88.1 341.0,80.0 342.1,73.1 343.8,69.6 347.3,69.0 348.5,63.8 349.6,57.5 351.3,55.8 353.7,54.6 354.8,46.5 356.3,40.8 357.7,46.5 358.8,51.2 360.0,46.5 361.4,37.3 362.9,41.9 364.6,44.2 366.9,43.1 369.2,44.2 370.4,48.8 371.5,56.9 372.1,63.8 373.3,71.9 375.6,75.4 376.7,81.2 377.3,86.9 377.9,95.0 378.5,101.5 380.2,110.8 381.9,118.8 383.7,126.9 386.0,135.0 388.8,140.8 391.7,143.1 395.8,143.7 399.2,146.0 402.7,146.5 408.0,147.2 429.0,147.2 431.5,145.6 434.0,147.2 507.0,147.2 508.5,144.0 510.0,138.0 511.3,136.0" fill="none" stroke="#000" stroke-width="1.9" stroke-linejoin="round"/>
<polyline points="55.0,272.7 57.2,269.2 58.3,268.1 60.1,264.6 61.2,261.2 63.0,258.8 65.8,263.5 68.7,264.0 70.5,257.7 72.2,250.8 73.9,244.4 76.2,245.0 78.5,242.7 81.4,239.2 82.0,234.6 82.6,229.6 85.5,227.3 88.9,223.8 90.7,216.9 92.4,208.8 93.5,205.4 95.3,207.7 96.4,214.6 98.2,212.3 99.3,206.5 100.5,198.5 101.6,191.5 102.8,189.8 104.5,195.0 106.2,200.8 108.5,198.5 110.8,195.0 111.5,193.5 113.3,198.1 114.4,203.8 117.3,203.8 118.5,209.6 120.2,214.2 120.8,218.8 122.5,222.3 123.1,228.1 124.6,235.7 126.9,244.9 130.0,252.6 133.1,261.8 135.4,271.1 137.7,277.2 140.8,281.1 143.8,281.8 146.9,284.9 155.0,284.9" fill="none" stroke="#000" stroke-width="2.0" stroke-dasharray="2.6 2.2" stroke-linejoin="round"/>
<polyline points="55.0,284.2 62.4,283.1 64.7,281.9 68.2,280.2 71.0,279.6 74.5,276.7 78.0,278.5 80.8,276.7 83.7,276.7 86.6,275.0 88.9,271.5 91.8,267.5 94.7,268.1 97.6,264.6 100.5,260.6 103.3,258.3 106.2,254.8 108.5,250.8 110.3,245.0 111.4,237.0 112.7,233.0 115.0,228.1 117.9,224.6 120.2,220.0 121.3,211.9 122.5,207.3 124.8,205.6 126.5,201.5 128.3,196.9 130.0,192.3 131.7,190.0 133.5,187.7 134.6,186.5 136.3,190.0 137.5,192.3 138.7,180.8 139.8,183.1 141.0,191.2 142.1,201.5 143.3,207.3 145.0,214.2 146.7,220.0 149.0,224.6 151.3,229.2 153.1,228.7 154.8,231.0 156.2,235.0 156.9,241.8 159.2,252.6 162.3,260.3 165.4,264.9 167.7,271.1 170.0,275.7 173.1,278.8 176.9,279.5 180.8,281.8 183.8,284.2 186.9,284.9 200.0,285.4 256.0,285.4" fill="none" stroke="#000" stroke-width="1.9" stroke-linejoin="round"/>
<polyline points="310.0,262.3 313.7,252.7 318.5,252.7 322.3,250.8 327.1,257.5 330.0,247.3 334.0,236.5 337.4,229.8 339.4,223.1 342.8,221.7 344.8,216.3 347.5,208.3 350.2,200.2 351.5,194.8 352.9,190.8 354.0,186.0 355.3,181.0 357.5,186.0 359.2,193.5 361.0,185.4 363.6,183.4 367.0,186.1 369.0,190.8 370.4,196.2 371.7,202.9 373.1,208.3 376.4,211.6 377.1,220.4 377.8,231.1 378.5,239.2 380.5,247.3 383.8,256.7 387.9,268.8 390.8,273.8 395.4,281.5 401.5,283.1 410.8,283.8 420.0,284.6" fill="none" stroke="#000" stroke-width="2.0" stroke-dasharray="2.6 2.2" stroke-linejoin="round"/>
<polyline points="310.0,278.7 314.6,276.7 320.4,276.7 324.2,273.8 330.0,269.5 335.4,266.1 342.1,259.4 347.5,252.7 350.2,243.3 352.2,241.2 354.2,239.2 356.9,236.5 359.6,232.5 362.3,225.8 365.0,227.1 367.0,219.0 369.0,211.0 371.7,208.9 373.1,200.2 374.4,193.5 376.4,192.1 379.1,186.1 381.8,198.8 384.5,192.1 386.5,194.8 389.2,204.2 391.9,200.2 393.9,202.9 395.9,212.3 397.5,220.0 400.8,221.5 403.1,229.2 405.4,235.4 406.9,241.5 408.5,246.2 410.8,244.6 413.1,249.2 416.2,256.9 419.2,263.8 422.3,266.9 426.2,269.2 430.0,272.3 433.1,275.4 436.2,276.9 440.0,280.0 444.6,283.1 447.7,283.8 455.0,284.6 510.0,284.6" fill="none" stroke="#000" stroke-width="1.9" stroke-linejoin="round"/>
<polyline points="55.0,419.6 67.4,416.7 77.0,411.9 82.8,407.1 90.5,402.3 100.1,398.5 105.8,394.6 113.5,390.8 121.2,386.9 127.0,383.1 132.8,377.3 136.6,373.5 139.5,362.0 141.0,350.0 143.5,334.0 146.0,326.0 148.1,320.4 152.7,318.1 155.0,326.2 157.3,335.4 158.5,349.2 160.8,365.4 163.1,375.8 166.5,381.5 168.8,390.8 173.5,402.3 179.2,411.5 186.2,417.3 194.2,419.6 200.0,423.1 209.2,424.2 220.0,425.5 253.5,425.5 254.2,372.3" fill="none" stroke="#000" stroke-width="2.0" stroke-dasharray="2.6 2.2" stroke-linejoin="round"/>
<polyline points="55.0,419.6 63.5,420.6 67.4,418.7 71.2,417.7 75.1,413.8 80.8,411.0 85.7,409.0 90.5,406.2 96.2,402.3 102.0,403.3 105.8,397.5 111.6,394.6 117.4,391.7 122.2,389.8 125.1,387.9 128.9,386.9 132.8,383.1 135.7,378.3 139.5,375.0 141.5,364.0 143.5,355.0 146.5,336.0 148.5,327.0 150.0,321.0 152.5,317.0 153.8,323.8 157.3,330.8 161.9,338.8 165.4,341.2 167.7,337.7 170.0,344.6 173.5,348.1 176.9,356.2 180.4,363.1 183.8,358.5 186.2,363.1 188.5,371.2 193.1,379.2 196.5,393.1 201.2,402.3 204.6,411.5 208.1,416.2 213.8,420.8 219.6,424.2 227.7,425.4 256.0,425.6" fill="none" stroke="#000" stroke-width="1.9" stroke-linejoin="round"/>
<polyline points="310.0,420.5 316.0,415.5 326.0,413.5 336.0,409.0 344.4,405.0 351.0,405.5 356.9,400.5 362.0,401.0 366.5,392.7 371.3,388.8 376.2,379.2 381.0,376.3 384.8,367.7 386.7,358.1 388.7,338.8 389.6,327.3 392.3,323.8 393.5,325.4 395.8,320.4 399.2,325.0 402.7,333.1 406.2,336.5 410.8,342.3 413.1,349.2 415.4,356.2 417.7,365.4 421.2,374.6 425.8,381.5 430.4,388.5 432.7,395.4 436.2,406.9 440.8,413.8 446.5,419.6 452.3,423.1 456.9,424.7 470.0,425.0" fill="none" stroke="#000" stroke-width="2.0" stroke-dasharray="2.6 2.2" stroke-linejoin="round"/>
<polyline points="310.0,421.5 312.7,419.6 316.5,416.7 320.4,416.7 326.2,414.8 331.0,411.9 335.8,410.0 340.6,409.0 344.4,406.2 348.3,404.2 351.2,407.1 355.0,404.2 356.9,401.3 360.8,402.3 363.7,404.2 366.5,396.5 369.4,390.8 372.3,394.6 375.2,387.9 378.1,386.0 381.0,384.0 382.9,376.3 385.8,369.6 388.7,365.8 391.5,350.4 394.4,340.8 396.5,332.5 399.2,338.8 400.4,342.3 402.1,348.5 403.8,351.5 406.2,358.5 408.5,352.7 410.8,358.5 413.1,355.0 415.4,360.8 417.7,367.7 420.0,359.6 423.5,355.0 426.9,353.8 429.2,358.5 431.5,357.3 433.8,366.5 436.2,355.0 439.6,363.1 443.1,366.5 445.4,375.8 448.8,380.4 452.3,386.2 455.8,393.1 459.2,400.0 462.7,406.9 466.2,412.7 469.6,418.5 475.4,423.1 478.8,422.6 482.3,424.2 486.9,425.0 510.0,425.0" fill="none" stroke="#000" stroke-width="1.9" stroke-linejoin="round"/>
<line x1="392" y1="41.3" x2="431.3" y2="41.3" stroke="#000" stroke-width="1.6"/>
<line x1="392.5" y1="65" x2="436" y2="65" stroke="#000" stroke-width="1.7" stroke-dasharray="4.6 1.9"/>
<text transform="translate(440.16,50.62) scale(1.0508,1)" font-family='"Liberation Sans", sans-serif' font-size="17.95">CTLA4</text>
<text transform="translate(442.74,69.53) scale(1.1025,1)" font-family='"Liberation Sans", sans-serif' font-size="17.41">Ctrl</text>
<text transform="translate(89.16,20.00) scale(0.9322,1)" font-family='"Liberation Sans", sans-serif' font-size="20.21">CD28</text>
<text transform="translate(137.36,10.62) scale(0.9904,1)" font-family='"Liberation Sans", sans-serif' font-size="12.93">+/+</text>
<text transform="translate(161.65,19.60) scale(0.9585,1)" font-family='"Liberation Sans", sans-serif' font-size="19.65">P1CTL</text>
<text transform="translate(344.26,19.10) scale(0.9302,1)" font-family='"Liberation Sans", sans-serif' font-size="20.21">CD28</text>
<text transform="translate(392.63,10.37) scale(0.9617,1)" font-family='"Liberation Sans", sans-serif' font-size="12.93">−/−</text>
<text transform="translate(414.24,18.60) scale(0.9672,1)" font-family='"Liberation Sans", sans-serif' font-size="19.51">P1CTL</text>
<text transform="translate(1.25,18.80) scale(1.0086,1)" font-family='"Liberation Sans", sans-serif' font-size="25.60" font-weight="bold">A</text>
<text transform="translate(-0.75,490.80) scale(0.9488,1)" font-family='"Liberation Sans", sans-serif' font-size="25.75" font-weight="bold">B</text>
<text transform="translate(69.45,463.62) scale(1.0310,1)" font-family='"Liberation Sans", sans-serif' font-size="18.37">CTLA4-PE</text>
<text transform="translate(88.18,578.10) scale(1.0194,1)" font-family='"Liberation Sans", sans-serif' font-size="18.69">B7-1Ig</text>
<text transform="translate(86.54,602.50) scale(1.0392,1)" font-family='"Liberation Sans", sans-serif' font-size="18.18">HSA-Ig</text>
<text transform="translate(357.63,645.30) scale(1.0253,1)" font-family='"Liberation Sans", sans-serif' font-size="18.91">CTLA4+B7-1Ig</text>
<text transform="translate(358.24,670.50) scale(1.0143,1)" font-family='"Liberation Sans", sans-serif' font-size="18.91">CD8+B7-1Ig</text>
<text transform="translate(346.83,645.03) scale(1.4008,1)" font-family='"Liberation Serif", serif' font-size="16.58">α</text>
<text transform="translate(347.35,670.55) scale(1.1344,1)" font-family='"Liberation Serif", serif' font-size="20.00">α</text>
<text transform="translate(215.84,784.70) scale(0.9622,1)" font-family='"Liberation Sans", sans-serif' font-size="19.64">Fluorescence intensity</text>
<text transform="translate(62.01,55.80) scale(1.2010,1)" font-family='"Liberation Sans", sans-serif' font-size="24.83" font-weight="bold">i</text>
<text transform="translate(316.95,55.80) scale(1.0207,1)" font-family='"Liberation Sans", sans-serif' font-size="24.55" font-weight="bold">ii</text>
<text transform="translate(62.20,193.80) scale(1.0469,1)" font-family='"Liberation Sans", sans-serif' font-size="24.55" font-weight="bold">iii</text>
<text transform="translate(317.39,193.00) scale(0.9968,1)" font-family='"Liberation Sans", sans-serif' font-size="24.55" font-weight="bold">iv</text>
<text transform="translate(63.98,327.50) scale(1.0020,1)" font-family='"Liberation Sans", sans-serif' font-size="23.70" font-weight="bold">v</text>
<text transform="translate(318.87,332.80) scale(1.0387,1)" font-family='"Liberation Sans", sans-serif' font-size="24.28" font-weight="bold">vi</text>
<text transform="translate(16.80,351.57) rotate(-90.3) scale(1.0064,1)" font-family='"Liberation Sans", sans-serif' font-size="18.91">Relative cell numbers (max %)</text>
<text transform="translate(18.75,758.97) rotate(-90.3) scale(0.9894,1)" font-family='"Liberation Sans", sans-serif' font-size="19.27">Relative cell numbers (max %)</text>
<line x1="230.8" y1="453.6" x2="434" y2="453.6" stroke="#000" stroke-width="2"/>
<path d="M432.3,448.7L441.6,453.2L432.3,457.3Z" fill="#000"/>
<line x1="73.2" y1="520.4" x2="514.5" y2="518.6" stroke="#000" stroke-width="1.9"/>
<line x1="513.9" y1="518.0" x2="514.6" y2="735.2" stroke="#000" stroke-width="1.7"/>
<line x1="74.0" y1="519.6" x2="74.6" y2="737.9" stroke="#000" stroke-width="1.9"/>
<line x1="73.8" y1="737.10" x2="515.4" y2="734.50" stroke="#000" stroke-width="1.9"/>
<line x1="64.5" y1="735.20" x2="74.2" y2="735.20" stroke="#000" stroke-width="1.7"/>
<line x1="70.4" y1="724.52" x2="74.2" y2="724.52" stroke="#000" stroke-width="1.5"/>
<line x1="70.4" y1="713.83" x2="74.2" y2="713.83" stroke="#000" stroke-width="1.5"/>
<line x1="70.4" y1="703.15" x2="74.2" y2="703.15" stroke="#000" stroke-width="1.5"/>
<line x1="64.5" y1="692.46" x2="74.2" y2="692.46" stroke="#000" stroke-width="1.7"/>
<line x1="70.4" y1="681.78" x2="74.2" y2="681.78" stroke="#000" stroke-width="1.5"/>
<line x1="70.4" y1="671.09" x2="74.2" y2="671.09" stroke="#000" stroke-width="1.5"/>
<line x1="70.4" y1="660.41" x2="74.2" y2="660.41" stroke="#000" stroke-width="1.5"/>
<line x1="64.5" y1="649.72" x2="74.2" y2="649.72" stroke="#000" stroke-width="1.7"/>
<line x1="70.4" y1="639.04" x2="74.2" y2="639.04" stroke="#000" stroke-width="1.5"/>
<line x1="70.4" y1="628.35" x2="74.2" y2="628.35" stroke="#000" stroke-width="1.5"/>
<line x1="70.4" y1="617.67" x2="74.2" y2="617.67" stroke="#000" stroke-width="1.5"/>
<line x1="64.5" y1="606.98" x2="74.2" y2="606.98" stroke="#000" stroke-width="1.7"/>
<line x1="70.4" y1="596.30" x2="74.2" y2="596.30" stroke="#000" stroke-width="1.5"/>
<line x1="70.4" y1="585.61" x2="74.2" y2="585.61" stroke="#000" stroke-width="1.5"/>
<line x1="70.4" y1="574.93" x2="74.2" y2="574.93" stroke="#000" stroke-width="1.5"/>
<line x1="64.5" y1="564.24" x2="74.2" y2="564.24" stroke="#000" stroke-width="1.7"/>
<line x1="70.4" y1="553.56" x2="74.2" y2="553.56" stroke="#000" stroke-width="1.5"/>
<line x1="70.4" y1="542.87" x2="74.2" y2="542.87" stroke="#000" stroke-width="1.5"/>
<line x1="70.4" y1="532.19" x2="74.2" y2="532.19" stroke="#000" stroke-width="1.5"/>
<line x1="64.5" y1="521.50" x2="74.2" y2="521.50" stroke="#000" stroke-width="1.7"/>
<line x1="77.00" y1="737.09" x2="77.00" y2="742.29" stroke="#000" stroke-width="1.3"/>
<line x1="109.65" y1="736.89" x2="109.65" y2="739.49" stroke="#000" stroke-width="1.3"/>
<line x1="128.74" y1="736.78" x2="128.74" y2="739.38" stroke="#000" stroke-width="1.3"/>
<line x1="142.29" y1="736.70" x2="142.29" y2="739.30" stroke="#000" stroke-width="1.3"/>
<line x1="152.80" y1="736.64" x2="152.80" y2="739.24" stroke="#000" stroke-width="1.3"/>
<line x1="161.39" y1="736.59" x2="161.39" y2="739.19" stroke="#000" stroke-width="1.3"/>
<line x1="168.65" y1="736.54" x2="168.65" y2="739.14" stroke="#000" stroke-width="1.3"/>
<line x1="174.94" y1="736.51" x2="174.94" y2="739.11" stroke="#000" stroke-width="1.3"/>
<line x1="180.49" y1="736.47" x2="180.49" y2="739.07" stroke="#000" stroke-width="1.3"/>
<line x1="185.45" y1="736.44" x2="185.45" y2="741.64" stroke="#000" stroke-width="1.3"/>
<line x1="218.10" y1="736.25" x2="218.10" y2="738.85" stroke="#000" stroke-width="1.3"/>
<line x1="237.19" y1="736.14" x2="237.19" y2="738.74" stroke="#000" stroke-width="1.3"/>
<line x1="250.74" y1="736.06" x2="250.74" y2="738.66" stroke="#000" stroke-width="1.3"/>
<line x1="261.25" y1="736.00" x2="261.25" y2="738.60" stroke="#000" stroke-width="1.3"/>
<line x1="269.84" y1="735.95" x2="269.84" y2="738.55" stroke="#000" stroke-width="1.3"/>
<line x1="277.10" y1="735.90" x2="277.10" y2="738.50" stroke="#000" stroke-width="1.3"/>
<line x1="283.39" y1="735.87" x2="283.39" y2="738.47" stroke="#000" stroke-width="1.3"/>
<line x1="288.94" y1="735.83" x2="288.94" y2="738.43" stroke="#000" stroke-width="1.3"/>
<line x1="293.90" y1="735.80" x2="293.90" y2="741.00" stroke="#000" stroke-width="1.3"/>
<line x1="326.55" y1="735.61" x2="326.55" y2="738.21" stroke="#000" stroke-width="1.3"/>
<line x1="345.64" y1="735.50" x2="345.64" y2="738.10" stroke="#000" stroke-width="1.3"/>
<line x1="359.19" y1="735.42" x2="359.19" y2="738.02" stroke="#000" stroke-width="1.3"/>
<line x1="369.70" y1="735.36" x2="369.70" y2="737.96" stroke="#000" stroke-width="1.3"/>
<line x1="378.29" y1="735.31" x2="378.29" y2="737.91" stroke="#000" stroke-width="1.3"/>
<line x1="385.55" y1="735.26" x2="385.55" y2="737.86" stroke="#000" stroke-width="1.3"/>
<line x1="391.84" y1="735.23" x2="391.84" y2="737.83" stroke="#000" stroke-width="1.3"/>
<line x1="397.39" y1="735.19" x2="397.39" y2="737.79" stroke="#000" stroke-width="1.3"/>
<line x1="402.35" y1="735.16" x2="402.35" y2="740.36" stroke="#000" stroke-width="1.3"/>
<line x1="435.00" y1="734.97" x2="435.00" y2="737.57" stroke="#000" stroke-width="1.3"/>
<line x1="454.09" y1="734.86" x2="454.09" y2="737.46" stroke="#000" stroke-width="1.3"/>
<line x1="467.64" y1="734.78" x2="467.64" y2="737.38" stroke="#000" stroke-width="1.3"/>
<line x1="478.15" y1="734.72" x2="478.15" y2="737.32" stroke="#000" stroke-width="1.3"/>
<line x1="486.74" y1="734.66" x2="486.74" y2="737.26" stroke="#000" stroke-width="1.3"/>
<line x1="494.00" y1="734.62" x2="494.00" y2="737.22" stroke="#000" stroke-width="1.3"/>
<line x1="500.29" y1="734.58" x2="500.29" y2="737.18" stroke="#000" stroke-width="1.3"/>
<line x1="505.84" y1="734.55" x2="505.84" y2="737.15" stroke="#000" stroke-width="1.3"/>
<line x1="510.80" y1="734.52" x2="510.80" y2="739.72" stroke="#000" stroke-width="1.3"/>
<text x="51.9" y="740.5" text-anchor="end" class="tkb">0</text>
<text x="46.3" y="697.8" text-anchor="end" class="tkb">20</text>
<text x="46.3" y="655.0" text-anchor="end" class="tkb">40</text>
<text x="46.3" y="612.3" text-anchor="end" class="tkb">60</text>
<text x="46.3" y="569.5" text-anchor="end" class="tkb">80</text>
<text x="39.8" y="526.8" text-anchor="end" class="tkb">100</text>
<text x="72.0" y="755.0" text-anchor="middle" class="tkb">0.1</text>
<text x="182.5" y="755.0" text-anchor="middle" class="tkb">1</text>
<text x="289.6" y="755.0" text-anchor="middle" class="tkb">10</text>
<text x="395.5" y="755.0" text-anchor="middle" class="tkb">100</text>
<text x="499.2" y="755.0" text-anchor="middle" class="tkb">1000</text>
<polyline points="80,733.0 150,732.6 250,732.2 300,732.0 430,731.4" fill="none" stroke="#000" stroke-width="1.5"/>
<polygon points="76.9,733 76.7,608.5 81.2,733" fill="#777" stroke="#000" stroke-width="1.1" stroke-linejoin="round"/>
<line x1="79.3" y1="732" x2="78.9" y2="675" stroke="#000" stroke-width="1.3" stroke-dasharray="4 2.6"/>
<polyline points="81.0,733.0 85.0,731.8 95.4,731.0 108.1,729.4 117.5,727.0 124.2,725.0 132.6,723.4 137.6,722.8 144.0,717.1 148.4,713.3 154.1,705.7 157.2,699.4 159.1,694.4 164.2,690.6 168.6,689.3 171.1,681.7 173.7,672.9 174.9,665.3 175.6,659.0 176.8,652.6 178.1,646.3 181.3,640.0 183.2,632.5 185.4,621.9 186.9,612.8 187.7,603.8 189.2,594.7 190.7,590.1 194.5,587.1 197.5,584.1 200.6,582.5 202.1,576.5 203.6,567.4 205.1,559.8 206.6,556.0 208.2,553.8 210.4,546.2 212.7,535.6 214.2,544.7 216.5,552.2 218.8,559.8 220.3,571.9 223.3,581.0 225.6,590.1 226.8,593.2 228.3,603.3 231.3,620.5 232.8,631.6 234.2,642.3 236.4,649.8 237.3,653.1 240.4,663.8 243.5,670.0 246.5,679.2 249.6,688.5 253.5,699.2 256.5,708.5 261.9,717.7 268.1,722.3 275.8,723.8 283.5,726.2 291.2,727.7 301.9,728.5 304.2,726.9 309.6,729.2 318.1,730.8 330.0,731.5" fill="none" stroke="#000" stroke-width="1.5" stroke-dasharray="5 3.2" stroke-linejoin="round"/>
<polyline points="81.0,733.0 86.0,732.6 93.1,731.0 96.0,728.5 100.0,728.7 105.0,730.0 110.0,727.5 115.0,725.8 120.0,724.3 125.0,722.9 130.1,721.9 133.8,717.7 137.0,712.1 141.4,707.6 145.9,703.2 149.7,698.2 153.4,697.5 156.0,693.1 158.5,684.2 161.7,677.9 164.8,672.2 168.6,667.2 170.5,661.5 172.4,653.9 174.3,646.3 176.3,634.1 178.6,620.4 181.6,606.8 183.9,596.2 185.4,588.6 187.7,582.5 190.7,578.0 193.0,573.5 194.5,564.4 195.3,555.3 197.5,553.0 199.1,549.2 200.6,553.0 202.5,545.4 204.4,549.2 206.6,553.0 208.9,546.2 211.2,544.7 213.2,547.7 215.0,555.3 217.2,562.8 218.8,568.9 219.5,576.5 220.3,585.6 222.2,595.2 225.2,605.3 226.8,615.4 227.8,625.5 229.3,640.7 231.8,655.9 234.2,666.9 236.5,677.7 239.6,690.0 242.7,699.2 246.5,706.9 250.4,714.6 254.2,720.8 258.8,724.6 265.0,728.5 272.7,730.8 286.5,732.3 300.0,732.5" fill="none" stroke="#000" stroke-width="1.5" stroke-linejoin="round"/>
<polyline points="81.0,733.0 147.8,732.4 154.1,728.5 159.1,724.7 162.9,720.9 168.0,718.4 172.4,715.9 175.6,714.6 179.6,711.9 184.2,705.0 187.1,698.1 188.8,691.2 190.6,684.2 192.9,679.6 195.2,673.8 196.3,665.8 198.1,658.8 199.8,656.5 202.7,656.5 204.4,651.9 205.6,645.0 206.5,635.7 208.0,621.0 210.5,615.0 212.7,608.3 214.4,600.0 215.1,590.0 217.2,586.0 219.5,580.0 222.5,571.9 224.8,565.9 226.3,556.8 228.0,548.0 229.6,540.9 231.8,541.6 234.1,550.7 236.4,551.5 238.7,546.2 240.9,546.9 243.2,550.7 245.5,550.0 247.0,551.5 248.5,556.8 250.0,567.4 251.5,578.0 253.1,585.6 254.6,593.2 256.8,600.7 259.1,608.3 260.6,615.9 262.2,621.9 264.4,629.5 265.9,634.1 268.1,642.3 271.2,654.6 272.7,666.9 274.2,674.6 278.1,677.7 281.9,682.3 284.2,691.5 287.3,699.2 291.2,706.9 295.0,712.3 298.1,716.9 301.2,717.7 304.2,715.4 308.8,717.7 313.5,720.8 319.6,724.6 324.2,726.2 327.3,723.1 331.9,723.8 336.5,726.2 342.7,728.5 350.0,730.0 360.0,731.0 430.0,731.2" fill="none" stroke="#000" stroke-width="1.5" stroke-linejoin="round"/>
<polyline points="81.0,733.0 137.6,732.6 150.3,731.7 162.9,729.8 173.0,727.9 180.8,724.6 186.5,720.6 191.2,716.5 195.2,711.9 198.1,707.9 202.7,703.8 204.4,699.2 205.6,693.5 207.3,687.7 209.6,684.8 211.9,683.7 213.1,679.6 214.2,673.8 216.0,665.8 217.1,660.0 218.8,656.5 220.2,652.9 222.2,642.8 224.2,633.6 227.3,623.5 229.8,610.4 231.1,597.7 233.4,585.6 235.6,576.5 237.9,565.9 240.2,559.8 242.5,555.3 244.7,547.7 247.0,541.6 249.3,540.1 252.3,541.6 254.6,544.7 256.1,550.7 257.6,558.3 259.1,567.4 261.4,568.9 264.4,570.4 265.2,578.0 265.9,585.6 267.5,596.2 269.7,603.8 272.0,611.3 274.3,618.9 276.5,628.0 278.1,642.3 280.4,656.2 283.5,670.0 287.3,683.8 291.2,694.6 295.8,702.3 299.6,706.2 304.2,713.1 307.3,716.2 311.9,718.5 316.5,721.5 321.2,724.6 325.8,726.2 333.5,726.9 341.2,728.5 348.8,730.0 359.6,730.8 368.8,731.2" fill="none" stroke="#000" stroke-width="3.3" stroke-linejoin="round"/>
<line x1="428" y1="733.0" x2="480" y2="733.0" stroke="#000" stroke-width="3.6"/>
<line x1="142" y1="568.8" x2="232" y2="568.8" stroke="#000" stroke-width="1.6"/>
<path d="M230.2,565.4L238.2,568.9L230.2,572.6Z" fill="#000"/>
<line x1="146" y1="597.6" x2="177" y2="597.6" stroke="#000" stroke-width="1.6"/>
<path d="M175.4,593.4L184.2,597.7L175.4,602.2Z" fill="#000"/>
<line x1="240" y1="641.0" x2="337.8" y2="641.0" stroke="#000" stroke-width="1.6"/>
<path d="M242,637.0L233.3,641.2L242,645.6Z" fill="#000"/>
<line x1="272" y1="664.0" x2="339.3" y2="664.0" stroke="#000" stroke-width="1.6"/>
<path d="M273,659.8L264.2,664.2L273,668.6Z" fill="#000"/>
</svg>
</body></html>
